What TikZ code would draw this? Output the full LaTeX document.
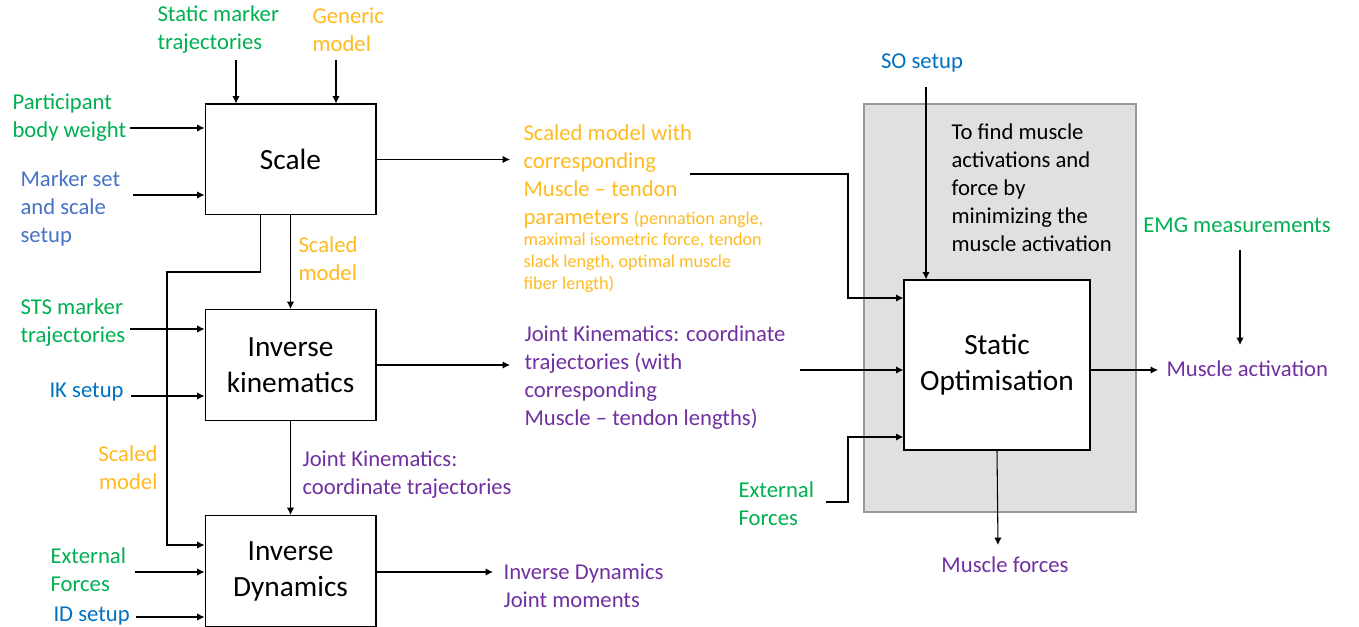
\documentclass[tikz,border=0pt]{standalone}
\usepackage{fontspec}
\setmainfont{Carlito}
\usepackage{xcolor}
\usepackage{tikz}
\usetikzlibrary{arrows.meta,positioning,calc}
\definecolor{grn}{HTML}{00B050}
\definecolor{orn}{HTML}{FFBA20}
\definecolor{blu}{HTML}{0070C0}
\definecolor{bluset}{HTML}{4472C4}
\definecolor{prp}{HTML}{7030A0}
\definecolor{panelfill}{HTML}{E0E0E0}
\definecolor{paneldraw}{HTML}{989898}

\begin{document}
\begin{tikzpicture}[
   x=0.75pt,y=-0.75pt,
   line width=0.8pt,
   box/.style={draw,line width=1pt,fill=white,minimum width=128pt,minimum height=83pt,
     inner sep=0pt,align=center,font=\fontsize{22}{27}\selectfont},
   lbl/.style={inner sep=0pt,align=left,font=\fontsize{17}{21}\selectfont},
   sml/.style={inner sep=0pt,align=left,font=\fontsize{13.6}{16.5}\selectfont},
   >={Latex[length=5.5pt,width=5.5pt]}]
 \useasboundingbox (0,0) rectangle (1359,627);
 % static optimisation panel
 \node[draw=paneldraw,fill=panelfill,line width=1pt,minimum width=204pt,minimum height=306pt] (panel) at (1000,308) {};
 \node[lbl,anchor=west] (aim) at (951,188) {To find muscle\\activations and\\force by\\minimizing the\\muscle activation};
 % tools
 \node[box] (scale) at (290.5,159.5) {Scale};
 \node[box] (ik) at (290.5,365) {Inverse\\kinematics};
 \node[box] (id) at (290.5,571) {Inverse\\Dynamics};
 \node[box,minimum width=139.5pt,minimum height=127.5pt] (so) at (997,365) {Static\\Optimisation};
 % inputs
 \node[lbl,text=grn,anchor=west] (smt) at (157,30) {Static marker\\trajectories};
 \node[lbl,text=orn,anchor=west] (gen) at (312,30) {Generic\\model};
 \node[lbl,text=grn,anchor=west] (pbw) at (12,118) {Participant\\body weight};
 \node[lbl,text=bluset,anchor=west] (mset) at (20,208) {Marker set\\and scale\\setup};
 \node[lbl,text=grn,anchor=west] (sts) at (20,323) {STS marker\\trajectories};
 \node[lbl,text=blu,anchor=west] (iks) at (49,392) {IK setup};
 \node[lbl,text=orn,anchor=east,align=right] (scm2) at (158,468) {Scaled\\model};
 \node[lbl,text=grn,anchor=west] (ef) at (50,570) {External\\Forces};
 \node[lbl,text=blu,anchor=west] (ids) at (53,616) {ID setup};
 \node[lbl,text=blu] (sos) at (922,63) {SO setup};
 \node[lbl,text=grn] (emg) at (1237,225) {EMG measurements};
 \node[lbl,text=grn,anchor=west] (ef2) at (738,504) {External\\Forces};
 % outputs
 \node[lbl,text=orn,anchor=west] (scm) at (298,259) {Scaled\\model};
 \node[lbl,text=orn,anchor=north west] (smw) at (523,124) {Scaled model with\\corresponding\\Muscle -- tendon\\parameters {\fontsize{13.6}{16.5}\selectfont (pennation angle,}};
 \node[sml,text=orn,below=3pt of smw.south west,anchor=north west] (mtp) {maximal isometric force, tendon\\slack length, optimal muscle\\fiber length)};
 \node[lbl,text=prp,anchor=west] (jkm) at (524,378) {Joint Kinematics: coordinate\\trajectories (with\\corresponding\\Muscle -- tendon lengths)};
 \node[lbl,text=prp,anchor=west] (jk) at (302,475) {Joint Kinematics:\\coordinate trajectories};
 \node[lbl,text=prp,anchor=west] (idm) at (503,586) {Inverse Dynamics\\Joint moments};
 \node[lbl,text=prp,anchor=west] (mact) at (1166,369) {Muscle activation};
 \node[lbl,text=prp] (mfor) at (1005,565) {Muscle forces};
 % connector ends
 \coordinate (smt-out) at (236,60);
 \coordinate (gen-out) at (336,60);
 \coordinate (pbw-out) at (130,128);
 \coordinate (mset-out) at (133,195);
 \coordinate (sts-out) at (130,329);
 \coordinate (iks-out) at (131,396);
 \coordinate (ef-out) at (135,572);
 \coordinate (ids-out) at (136,617);
 \coordinate (smw-in) at (510,159.5);
 \coordinate (smw-out) at (690,174);
 \coordinate (smw-turn) at (848,298);
 \coordinate (loop) at (167,272);
 \coordinate (jkm-in) at (510,365);
 \coordinate (jkm-out) at (800,370);
 \coordinate (ef2-out) at (826,502);
 \coordinate (ef2-turn) at (848,437);
 \coordinate (idm-in) at (493,572);
 \coordinate (sos-out) at (926,87);
 \coordinate (emg-out) at (1240,250);
 \coordinate (emg-in) at (1240,345);
 \coordinate (mact-in) at (1158,370);
 \coordinate (mfor-in) at (998,545);
 % scale
 \draw[->] (smt-out) -- (scale.north -| smt-out);
 \draw[->] (gen-out) -- (scale.north -| gen-out);
 \draw[->] (pbw-out) -- (scale.west |- pbw-out);
 \draw[->] (mset-out) -- (scale.west |- mset-out);
 \draw[->] (scale.east) -- (smw-in);
 \draw[->] (smw-out) -| (smw-turn) -- (so.west |- smw-turn);
 \draw[->] (scale.south) -- (ik.north);
 \draw[->] ($(scale.south)+(-30,0)$) |- (loop) |- ($(id.west)+(0,-26)$);
 % inverse kinematics
 \draw[->] (sts-out) -- (ik.west |- sts-out);
 \draw[->] (iks-out) -- (ik.west |- iks-out);
 \draw[->] (ik.east) -- (jkm-in);
 \draw[->] (ik.south) -- (id.north);
 % inverse dynamics
 \draw[->] (ef-out) -- (id.west |- ef-out);
 \draw[->] (ids-out) -- (id.west |- ids-out);
 \draw[->] (id.east |- idm-in) -- (idm-in);
 % static optimisation
 \draw[->] (jkm-out) -- (so.west |- jkm-out);
 \draw[->] (ef2-out) -| (ef2-turn) -- (so.west |- ef2-turn);
 \draw[->] (sos-out) -- (so.north -| sos-out);
 \draw[->] (emg-out) -- (emg-in);
 \draw[->] (so.east |- mact-in) -- (mact-in);
 \draw[->] (so.south) -- (mfor-in);
\end{tikzpicture}
\end{document}
